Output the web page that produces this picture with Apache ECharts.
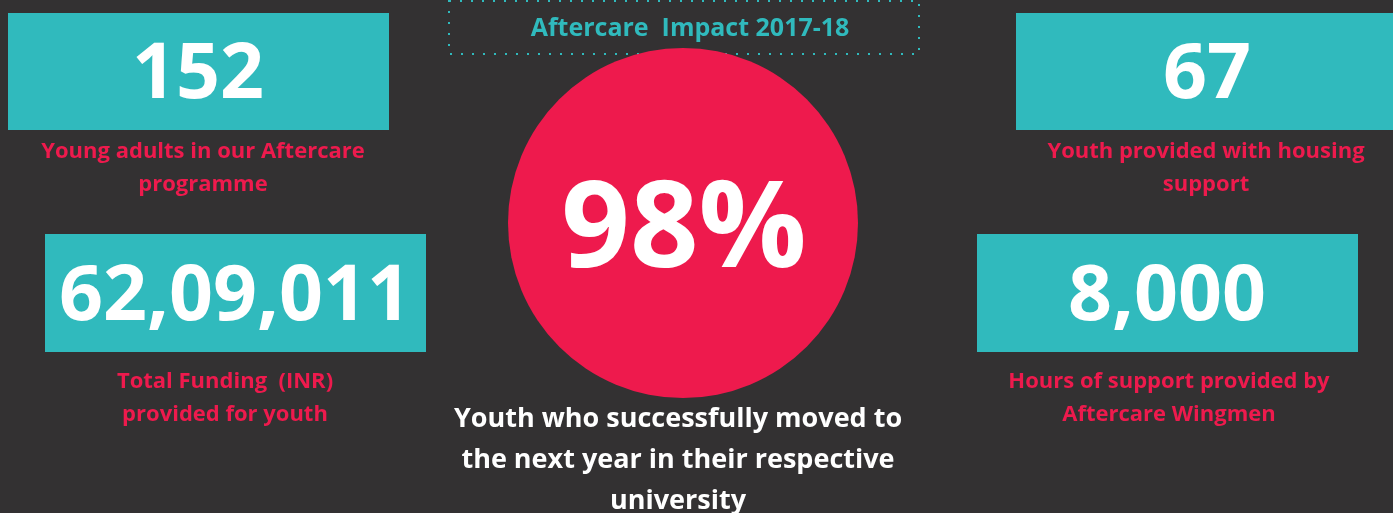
<!DOCTYPE html>
<html>
<head>
<meta charset="utf-8">
<script src="https://cdn.jsdelivr.net/npm/echarts@6/dist/echarts.min.js"></script>
<style>
  html, body { margin: 0; padding: 0; background: #333132; }
  #chart { width: 1393px; height: 513px; }
</style>
</head>
<body>
<div id="chart"></div>
<script>
// Aftercare impact figures for 2017-18
const title = 'Aftercare  Impact 2017-18';
const metricValues = [152, 67, 6209011, 8000];
const metricLabels = [
  ['Young adults in our Aftercare', 'programme'],
  ['Youth provided with housing', 'support'],
  ['Total Funding  (INR)', 'provided for youth'],
  ['Hours of support provided by', 'Aftercare Wingmen']
];
const progressionPct = 98;
const progressionLabel = [
  'Youth who successfully moved to',
  'the next year in their respective',
  'university'
];

const TEAL = '#30BABD';
const RED = '#EE1A4D';
const FONT = '"Open Sans", "Noto Sans", sans-serif';

// Indian digit grouping (e.g. 62,09,011)
function formatIN(n) {
  const s = String(n);
  if (s.length <= 3) return s;
  const last3 = s.slice(-3);
  const rest = s.slice(0, -3).replace(/\B(?=(\d{2})+(?!\d))/g, ',');
  return rest + ',' + last3;
}

// Tile layout: box rect, number centre (cx) and label centre (lx, ly)
const tiles = [
  { x: 8,    y: 13,  w: 381, h: 117, cx: 198,  lx: 203,  ly: 152 },
  { x: 1016, y: 13,  w: 390, h: 117, cx: 1207, lx: 1206, ly: 152 },
  { x: 45,   y: 234, w: 381, h: 118, cx: 235,  lx: 225,  ly: 382 },
  { x: 977,  y: 234, w: 381, h: 118, cx: 1167, lx: 1169, ly: 382 }
];

const chart = echarts.init(document.getElementById('chart'));
const elements = [];

// Title frame with dotted border
elements.push({
  type: 'rect',
  shape: { x: 449, y: 1, width: 470, height: 53 },
  style: { fill: 'none', stroke: TEAL, lineWidth: 2, lineDash: [2, 9] }
});
elements.push({
  type: 'text',
  x: 690, y: 29,
  style: {
    text: title, fill: TEAL, font: '700 25px ' + FONT,
    align: 'center', verticalAlign: 'middle'
  }
});

metricValues.forEach((v, i) => {
  const t = tiles[i];
  elements.push({
    type: 'rect',
    shape: { x: t.x, y: t.y, width: t.w, height: t.h },
    style: { fill: TEAL }
  });
  elements.push({
    type: 'text',
    x: t.cx, y: t.y + t.h / 2 + 5,
    style: {
      text: formatIN(v), fill: '#ffffff', font: '700 77px ' + FONT,
      align: 'center', verticalAlign: 'middle'
    }
  });
  metricLabels[i].forEach((line, j) => {
    elements.push({
      type: 'text',
      x: t.lx, y: t.ly + j * 33,
      style: {
        text: line, fill: RED, font: '700 22px ' + FONT,
        align: 'center', verticalAlign: 'middle'
      }
    });
  });
});

// Central progression circle
elements.push({
  type: 'circle',
  shape: { cx: 683, cy: 223, r: 175 },
  style: { fill: RED }
});
elements.push({
  type: 'text',
  x: 684, y: 233,
  style: {
    text: progressionPct + '%', fill: '#ffffff', font: '700 120px ' + FONT,
    align: 'center', verticalAlign: 'middle'
  }
});
progressionLabel.forEach((line, j) => {
  elements.push({
    type: 'text',
    x: 678, y: 419 + j * 41,
    style: {
      text: line, fill: '#ffffff', font: '700 27px ' + FONT,
      align: 'center', verticalAlign: 'middle'
    }
  });
});

chart.setOption({
  backgroundColor: '#333132',
  animation: false,
  graphic: { elements: elements }
});
</script>
</body>
</html>
